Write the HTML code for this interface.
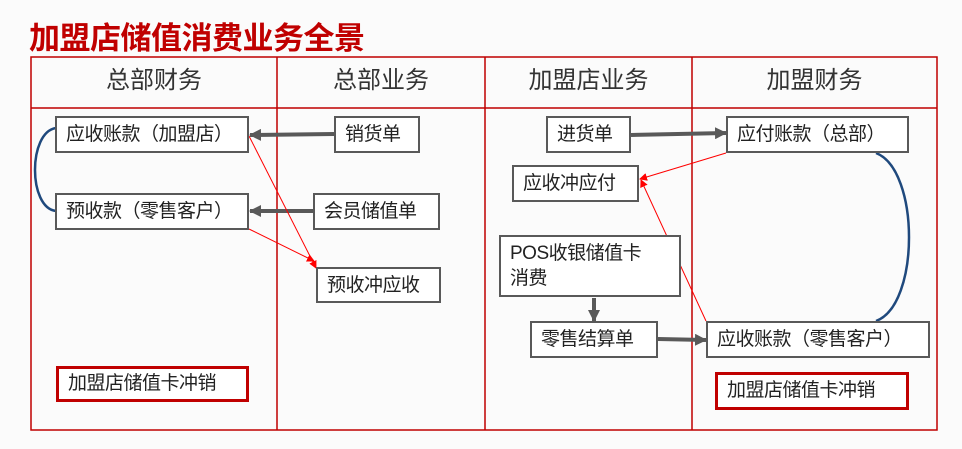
<!DOCTYPE html>
<html><head><meta charset="utf-8"><style>
body{margin:0;width:962px;height:449px;background:#fbfbfb;position:relative;overflow:hidden;font-family:"Liberation Sans","Noto Sans CJK SC",sans-serif;}
.t{position:absolute;left:29px;top:13px;font-size:31px;font-weight:bold;color:#c00000;letter-spacing:-0.5px;}
.h{position:absolute;top:57px;height:51px;line-height:48px;text-align:center;font-size:24px;color:#333;}
.b{position:absolute;border:2px solid #595959;background:#fff;box-sizing:border-box;font-size:19px;color:#222;line-height:33px;padding-left:9px;white-space:nowrap;letter-spacing:-0.5px;}
.r{border:3px solid #c00000;}
</style></head><body>
<div class="t">加盟店储值消费业务全景</div>
<svg width="962" height="449" style="position:absolute;left:0;top:0">
<defs>
<marker id="g" markerWidth="12" markerHeight="12" refX="11" refY="6" orient="auto" markerUnits="userSpaceOnUse"><path d="M0,0L12,6L0,12z" fill="#595959"/></marker>
<marker id="rd" markerWidth="8" markerHeight="8" refX="7" refY="4" orient="auto" markerUnits="userSpaceOnUse"><path d="M0,0L8,4L0,8z" fill="#f00"/></marker>
</defs>
<g stroke="#c00000" stroke-width="1.5" fill="none">
<rect x="31" y="57" width="906" height="373"/>
<line x1="31" y1="108" x2="937" y2="108"/>
<line x1="277" y1="57" x2="277" y2="430"/>
<line x1="485" y1="57" x2="485" y2="430"/>
<line x1="692" y1="57" x2="692" y2="430"/>
</g>
<g stroke="#1f497d" stroke-width="2.5" fill="none">
<path d="M56,128 C28,132 28,208 56,211"/>
<path d="M876,153 C920,170 920,305 876,321"/>
</g>
<g stroke="#595959" stroke-width="4" fill="none">
<line x1="334" y1="134" x2="250" y2="135" marker-end="url(#g)"/>
<line x1="313" y1="211" x2="250" y2="211" marker-end="url(#g)"/>
<line x1="631" y1="135" x2="726" y2="133" marker-end="url(#g)"/>
<line x1="594" y1="298" x2="594" y2="321" marker-end="url(#g)"/>
<line x1="658" y1="339" x2="706" y2="340" marker-end="url(#g)"/>
</g>
<g stroke="#f00" stroke-width="1" fill="none">
<line x1="249" y1="136" x2="316" y2="268" marker-end="url(#rd)"/>
<line x1="249" y1="229" x2="314" y2="261" marker-end="url(#rd)"/>
<line x1="726" y1="153" x2="640" y2="179" marker-end="url(#rd)"/>
<line x1="706" y1="321" x2="641" y2="180" marker-end="url(#rd)"/>
</g>
</svg>
<div class="h" style="left:31px;width:246px">总部财务</div>
<div class="h" style="left:277px;width:208px">总部业务</div>
<div class="h" style="left:485px;width:207px">加盟店业务</div>
<div class="h" style="left:692px;width:245px">加盟财务</div>
<div class="b" style="left:55px;top:116px;width:194px;height:37px">应收账款（加盟店）</div>
<div class="b" style="left:55px;top:193px;width:194px;height:37px">预收款（零售客户）</div>
<div class="b" style="left:334px;top:116px;width:86px;height:37px">销货单</div>
<div class="b" style="left:313px;top:193px;width:127px;height:37px">会员储值单</div>
<div class="b" style="left:316px;top:267px;width:125px;height:36px">预收冲应收</div>
<div class="b" style="left:546px;top:116px;width:85px;height:37px">进货单</div>
<div class="b" style="left:726px;top:116px;width:183px;height:37px">应付账款（总部）</div>
<div class="b" style="left:512px;top:165px;width:127px;height:37px">应收冲应付</div>
<div class="b" style="left:499px;top:235px;width:182px;height:62px;line-height:25px;padding-top:4px">POS收银储值卡<br>消费</div>
<div class="b" style="left:530px;top:321px;width:128px;height:37px">零售结算单</div>
<div class="b" style="left:706px;top:321px;width:224px;height:37px">应收账款（零售客户）</div>
<div class="b r" style="left:56px;top:366px;width:193px;height:36px;line-height:30px">加盟店储值卡冲销</div>
<div class="b r" style="left:715px;top:372px;width:194px;height:38px;line-height:32px">加盟店储值卡冲销</div>
</body></html>
